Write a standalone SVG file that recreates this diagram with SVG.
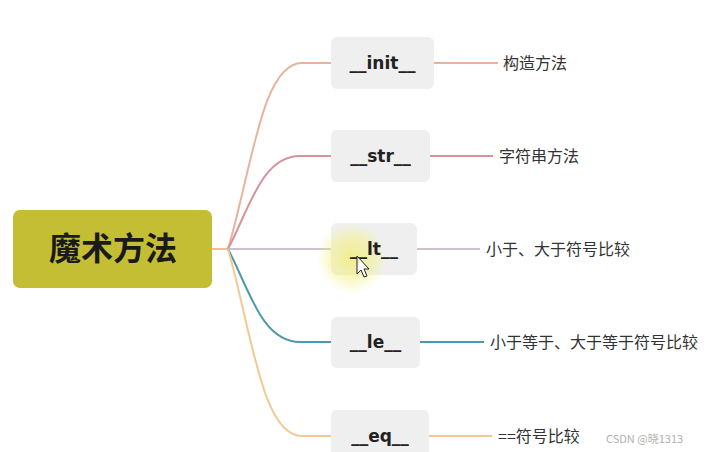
<svg xmlns="http://www.w3.org/2000/svg" width="706" height="452" viewBox="0 0 706 452">
<defs>
<radialGradient id="glow" cx="0.5" cy="0.5" r="0.5">
<stop offset="0" stop-color="#f3f06a" stop-opacity="0.75"/>
<stop offset="0.6" stop-color="#f3f07a" stop-opacity="0.45"/>
<stop offset="1" stop-color="#f5f3a0" stop-opacity="0"/>
</radialGradient>
<style>
.box{fill:#efefef;}
.lbl{font-family:"DejaVu Sans","Liberation Sans",sans-serif;font-weight:bold;font-size:17px;fill:#222;text-anchor:middle;}
.desc{font-family:"Noto Sans CJK SC","Noto Sans",sans-serif;font-size:16px;fill:#333;}
.c{fill:none;stroke-width:2;}
</style>
</defs>
<rect width="706" height="452" fill="#ffffff"/>
<g id="connectors">
<path class="c" stroke="#f0c090" d="M212,249 H228"/>
<path class="c" stroke="#e9b29c" d="M228,249 C252,168 262,63 302,63 H331"/>
<path class="c" stroke="#d6949a" d="M228,249 C250,207 262,156 300,156 H331"/>
<path class="c" stroke="#cfc0cb" d="M228,249 H331"/>
<path class="c" stroke="#4f9aaa" d="M228,249 C250,291 262,342 300,342 H331"/>
<path class="c" stroke="#f2c894" d="M228,249 C252,333 262,436 302,436 H331"/>
<path class="c" stroke="#e9b29c" d="M434,63 H498"/>
<path class="c" stroke="#d6949a" d="M430,156 H493"/>
<path class="c" stroke="#cfc0cb" d="M417,249 H480"/>
<path class="c" stroke="#4f9aaa" d="M420,342 H484"/>
<path class="c" stroke="#f2c894" d="M429,436 H492"/>
</g>
<g id="root">
<rect x="13" y="210" width="199" height="78" rx="7" fill="#c3be34"/>
<text x="113" y="260" text-anchor="middle" font-family="'Noto Sans CJK SC',sans-serif" font-weight="bold" font-size="32" fill="#1a1a1a">魔术方法</text>
</g>
<g id="init">
<rect class="box" x="331" y="37" width="103" height="52" rx="6"/>
<text class="lbl" x="382.5" y="69">__init__</text>
<text class="desc" x="503" y="69">构造方法</text>
</g>
<g id="str">
<rect class="box" x="331" y="130" width="99" height="52" rx="6"/>
<text class="lbl" x="380.5" y="162">__str__</text>
<text class="desc" x="499" y="162">字符串方法</text>
</g>
<g id="lt">
<rect class="box" x="331" y="223" width="86" height="52" rx="6"/>
<circle cx="352" cy="258" r="36" fill="url(#glow)"/>
<text class="lbl" x="374" y="255">__lt__</text>
<path d="M357,256 L357,274 L361,270 L364,277 L367,276 L364,269 L369,269 Z" fill="#fff" stroke="#222" stroke-width="1"/>
<text class="desc" x="486" y="255">小于、大于符号比较</text>
</g>
<g id="le">
<rect class="box" x="331" y="317" width="89" height="51" rx="6"/>
<text class="lbl" x="375.5" y="348">__le__</text>
<text class="desc" x="490" y="348">小于等于、大于等于符号比较</text>
</g>
<g id="eq">
<rect class="box" x="331" y="410" width="98" height="52" rx="6"/>
<text class="lbl" x="380" y="442">__eq__</text>
<text class="desc" x="498" y="442">==符号比较</text>
</g>
<text x="606" y="443" font-family="'Noto Sans CJK SC',sans-serif" font-size="11" fill="#b0b0b0">CSDN @晓1313</text>
</svg>
